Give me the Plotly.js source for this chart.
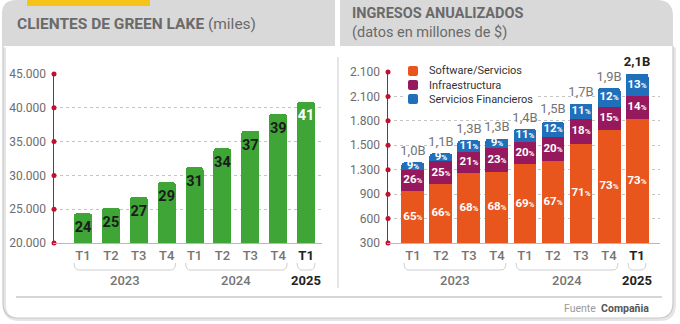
<!DOCTYPE html>
<html>
<head>
<meta charset="utf-8">
<script src="https://cdn.plot.ly/plotly-3.0.1.min.js"></script>
<style>html,body{margin:0;padding:0;background:#fff;}#chart{width:680px;height:324px;}</style>
</head>
<body>
<div id="chart"></div>
<script>
// ---------- DATA ----------
const quarters = ['T1','T2','T3','T4','T1','T2','T3','T4','T1'];
const years = ['2023','2023','2023','2023','2024','2024','2024','2024','2025'];

const clientes = [24400, 25200, 26800, 29000, 31200, 34000, 36600, 39100, 40900];
const clientesLabels = ['24','25','27','29','31','34','37','39','41'];
const clientesTickVals = [20000, 25000, 30000, 35000, 40000, 45000];
const clientesTickText = ['20.000','25.000','30.000','35.000','40.000','45.000'];

const ingresosTotal = [990, 1100, 1260, 1280, 1400, 1500, 1710, 1900, 2080];
const ingresosLabels = ['1,0B','1,1B','1,3B','1,3B','1,4B','1,5B','1,7B','1,9B','2,1B'];
const pctSoftware = [65, 66, 68, 68, 69, 67, 71, 73, 73];
const pctInfra    = [26, 25, 21, 23, 20, 20, 18, 15, 14];
const pctFin      = [9, 9, 11, 9, 11, 12, 11, 12, 13];
const seriesNames = ['Software/Servicios','Infraestructura','Servicios Financieros'];
const ingresosTickVals = [0, 300, 600, 900, 1200, 1500, 1800, 2100];
const ingresosTickText = ['300','600','900','1.300','1.500','1.800','2.100','2.100'];

// ---------- STYLE ----------
const W = 680, H = 324;
const FONT = 'Roboto, "DejaVu Sans", sans-serif';
const GREEN = '#3ea536', RED = '#c3112d';
const SERIES_COLORS = ['#e8561e', '#97195d', '#1f6fba'];
const GRAY_TXT = '#747474', DARK = '#222222';
const px = x => x / W;
const py = y => 1 - y / H;

const idx = quarters.map((_, i) => i);
const last = idx.length - 1;
const xr1 = [-1.04, 8.57];
const xr2 = [-0.89, 8.82];

const tickText = quarters.map((q, i) => i === last ? '<span style="color:' + DARK + '"><b>' + q + '</b></span>' : q);

// ---------- TRACES ----------
const traces = [];
// left bars
traces.push({
  type: 'bar', x: idx, y: clientes, xaxis: 'x', yaxis: 'y', width: 0.645,
  marker: {color: GREEN, cornerradius: 3}, showlegend: false, hoverinfo: 'skip'
});
traces.push({
  type: 'scatter', mode: 'markers+text', x: idx, y: clientes, xaxis: 'x', yaxis: 'y',
  text: clientesLabels, textposition: 'bottom center',
  marker: {size: 11, opacity: 0},
  textfont: {family: FONT, size: 14.5, weight: 700, color: idx.map(i => i === last ? '#ffffff' : '#1b1b1b')},
  cliponaxis: false, showlegend: false, hoverinfo: 'skip'
});
// axis dots left
traces.push({
  type: 'scatter', mode: 'markers', x: clientesTickVals.map(() => xr1[0]), y: clientesTickVals,
  xaxis: 'x', yaxis: 'y', marker: {size: 5, color: RED}, cliponaxis: false, showlegend: false, hoverinfo: 'skip'
});

// right stacked bars
const pcts = [pctSoftware, pctInfra, pctFin];
const segVals = pcts.map(p => p.map((v, i) => ingresosTotal[i] * v / 100));
segVals.forEach((vals, k) => {
  traces.push({
    type: 'bar', x: idx, y: vals, xaxis: 'x2', yaxis: 'y2', width: 0.82, name: seriesNames[k],
    marker: {color: SERIES_COLORS[k], line: {width: 0}}, showlegend: false, hoverinfo: 'skip'
  });
});
// segment labels
let cum = idx.map(() => 0);
segVals.forEach((vals, k) => {
  const mid = vals.map((v, i) => cum[i] + v / 2);
  cum = cum.map((c, i) => c + vals[i]);
  traces.push({
    type: 'scatter', mode: 'text', x: idx, y: mid, xaxis: 'x2', yaxis: 'y2',
    text: pcts[k].map(v => v + '<span style="font-size:8px">%</span>'),
    textposition: 'middle center',
    textfont: {family: FONT, size: 11.5, weight: 700, color: '#ffffff'},
    cliponaxis: false, showlegend: false, hoverinfo: 'skip'
  });
});
// totals
traces.push({
  type: 'scatter', mode: 'markers+text', x: idx, y: ingresosTotal, xaxis: 'x2', yaxis: 'y2',
  text: ingresosLabels.map((t, i) => i === last ? '<b>' + t + '</b>' : t),
  textposition: 'top center', marker: {size: 5, opacity: 0},
  textfont: {family: FONT, size: 13, color: idx.map(i => i === last ? DARK : GRAY_TXT)},
  cliponaxis: false, showlegend: false, hoverinfo: 'skip'
});
// axis dots right
traces.push({
  type: 'scatter', mode: 'markers', x: ingresosTickVals.map(() => xr2[0]), y: ingresosTickVals,
  xaxis: 'x2', yaxis: 'y2', marker: {size: 5, color: RED}, cliponaxis: false, showlegend: false, hoverinfo: 'skip'
});

// ---------- SHAPES ----------
function rr(x0, y0, x1, y1, rtl, rtr, rbr, rbl) {
  const P = (x, y) => px(x) + ',' + py(y);
  let d = 'M' + P(x0, y0 + rtl);
  d += ' Q' + P(x0, y0) + ' ' + P(x0 + rtl, y0);
  d += ' L' + P(x1 - rtr, y0);
  d += ' Q' + P(x1, y0) + ' ' + P(x1, y0 + rtr);
  d += ' L' + P(x1, y1 - rbr);
  d += ' Q' + P(x1, y1) + ' ' + P(x1 - rbr, y1);
  d += ' L' + P(x0 + rbl, y1);
  d += ' Q' + P(x0, y1) + ' ' + P(x0, y1 - rbl);
  d += ' Z';
  return d;
}
function openFrame(off) {
  const P = (x, y) => px(x + off) + ',' + py(y + off);
  return 'M' + P(3, 46) + ' L' + P(3, 303) + ' Q' + P(3, 318) + ' ' + P(18, 318) +
    ' L' + P(658, 318) + ' Q' + P(673, 318) + ' ' + P(673, 303) + ' L' + P(673, 46);
}
const shapes = [
  {type: 'path', xref: 'paper', yref: 'paper', path: openFrame(1.5), line: {color: 'rgba(0,0,0,0.10)', width: 3}, layer: 'below'},
  {type: 'path', xref: 'paper', yref: 'paper', path: openFrame(0), line: {color: '#c9c9c9', width: 1.2}, layer: 'below'},
  {type: 'path', xref: 'paper', yref: 'paper', path: rr(2, 0, 335, 46, 14, 0, 0, 0), fillcolor: '#d9d9d9', line: {width: 0}, layer: 'below'},
  {type: 'path', xref: 'paper', yref: 'paper', path: rr(340, 0, 673, 46, 0, 16, 0, 0), fillcolor: '#d9d9d9', line: {width: 0}, layer: 'below'},
  {type: 'rect', xref: 'paper', yref: 'paper', x0: px(27), x1: px(150), y0: py(0), y1: py(6), fillcolor: '#f6c316', line: {width: 0}, layer: 'below'},
  {type: 'line', xref: 'paper', yref: 'paper', x0: px(338), x1: px(338), y0: py(57), y1: py(288), line: {color: '#dcdcdc', width: 1.5}, layer: 'below'},
  {type: 'line', xref: 'paper', yref: 'paper', x0: px(16), x1: px(662), y0: py(297), y1: py(297), line: {color: '#d6d6d6', width: 2}, layer: 'below'}
];

// year brackets + year labels
const annotations = [];
const yearList = [...new Set(years)];
[['x', xr1, 27.9], ['x2', xr2, 28]].forEach(([xa, xr, unit]) => {
  yearList.forEach(yr => {
    const ids = idx.filter(i => years[i] === yr);
    const a = ids[0] - 0.32, b = ids[ids.length - 1] + 0.32;
    const r = 5 / unit;
    const yT = py(263), yB = py(270);
    shapes.push({
      type: 'path', xref: xa, yref: 'paper',
      path: 'M' + a + ',' + yT + ' Q' + a + ',' + yB + ' ' + (a + r) + ',' + yB + ' L' + (b - r) + ',' + yB +
        ' Q' + b + ',' + yB + ' ' + b + ',' + yT,
      line: {color: '#cfcfcf', width: 1}
    });
    const isLast = yr === years[last];
    annotations.push({
      xref: xa, yref: 'paper', x: (ids[0] + ids[ids.length - 1]) / 2, y: py(280),
      text: isLast ? '<b>' + yr + '</b>' : yr, showarrow: false, yanchor: 'middle',
      font: {family: FONT, size: 13, color: isLast ? DARK : GRAY_TXT, weight: isLast ? 700 : 500}
    });
  });
});

// legend (manual)
shapes.push({type: 'rect', xref: 'paper', yref: 'paper', x0: px(403), x1: px(536), y0: py(63), y1: py(106), fillcolor: '#ffffff', line: {width: 0}, layer: 'above'});
seriesNames.forEach((n, k) => {
  const yc = 71 + 14 * k;
  shapes.push({type: 'path', xref: 'paper', yref: 'paper', path: rr(408, yc - 5, 418, yc + 5, 2, 2, 2, 2),
    fillcolor: SERIES_COLORS[k], line: {width: 0}, layer: 'above'});
  annotations.push({xref: 'paper', yref: 'paper', x: px(427), y: py(yc), xanchor: 'left', yanchor: 'middle',
    text: n, showarrow: false, font: {family: FONT, size: 11, color: '#333'}});
});

// titles
annotations.push(
  {xref: 'paper', yref: 'paper', x: px(15), y: py(24), xanchor: 'left', yanchor: 'middle', showarrow: false,
   text: '<b>CLIENTES DE GREEN LAKE</b> (miles)', font: {family: FONT, size: 15.5, color: '#6a6a6a'}},
  {xref: 'paper', yref: 'paper', x: px(350), y: py(23.5), xanchor: 'left', yanchor: 'middle', showarrow: false, align: 'left',
   text: '<b>INGRESOS ANUALIZADOS</b><br>(datos en millones de $)', font: {family: FONT, size: 14.5, color: '#6a6a6a'}},
  {xref: 'paper', yref: 'paper', x: px(651), y: py(308), xanchor: 'right', yanchor: 'middle', showarrow: false,
   text: '<span style="color:#9a9a9a">Fuente</span>  <b>Compañia</b>', font: {family: FONT, size: 10.5, color: '#555'}}
);

const xaxisBase = {
  showgrid: false, zeroline: false, showline: true, linecolor: '#b8b8b8', linewidth: 1,
  ticks: '', tickvals: idx, ticktext: tickText, fixedrange: true,
  tickfont: {family: FONT, size: 13, color: GRAY_TXT, weight: 500}
};
const yaxisBase = {
  showgrid: true, gridcolor: '#c4c4c4', griddash: 'dot', gridwidth: 1, zeroline: false,
  showline: true, linecolor: RED, linewidth: 1.5, ticks: '', ticklabelstandoff: 4, fixedrange: true,
  tickfont: {family: FONT, size: 12, color: '#6d6d6d'}
};

const layout = {
  width: W, height: H, margin: {l: 0, r: 0, t: 0, b: 0},
  paper_bgcolor: '#ffffff', plot_bgcolor: 'rgba(0,0,0,0)',
  barmode: 'stack', barcornerradius: 3, showlegend: false, hovermode: false,
  font: {family: FONT},
  xaxis: Object.assign({}, xaxisBase, {domain: [px(54), px(322)], range: xr1, anchor: 'y'}),
  yaxis: Object.assign({}, yaxisBase, {domain: [py(243), py(74)], range: [20000, 45000],
    tickvals: clientesTickVals, ticktext: clientesTickText, anchor: 'x'}),
  xaxis2: Object.assign({}, xaxisBase, {domain: [px(388), px(660)], range: xr2, anchor: 'y2'}),
  yaxis2: Object.assign({}, yaxisBase, {domain: [py(243), py(72)], range: [0, 2100],
    tickvals: ingresosTickVals, ticktext: ingresosTickText, anchor: 'x2'}),
  shapes: shapes, annotations: annotations
};

Plotly.newPlot('chart', traces, layout, {displayModeBar: false, staticPlot: true});
</script>
</body>
</html>
